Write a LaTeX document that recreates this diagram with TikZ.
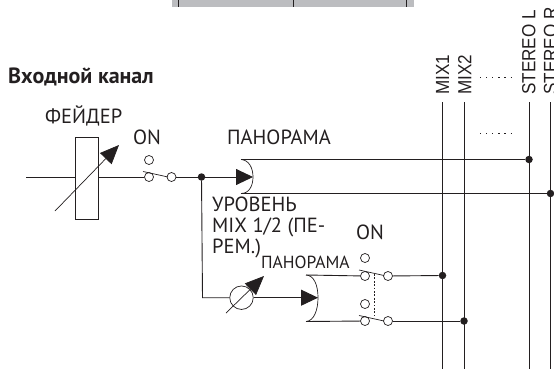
\documentclass[tikz,border=0pt]{standalone}
\usepackage{fontspec}
\usepackage{graphicx}
\setmainfont{PT Sans}
\newfontfamily\busfont{Liberation Sans}
\usetikzlibrary{arrows.meta}
\definecolor{ink}{HTML}{231F20}
\definecolor{barg}{HTML}{BCBDC0}
\tikzset{
  x=1pt,y=-1pt,
  wire/.style={draw=ink,line width=0.9pt},
  thin wire/.style={draw=ink,line width=0.7pt},
  termc/.style={circle,draw=ink,fill=white,line width=0.7pt,inner sep=0pt,minimum size=9pt},
  joint/.style={circle,fill=ink,inner sep=0pt,minimum size=7.5pt},
  lab/.style={inner sep=0pt,anchor=base west,text=ink,font=\fontsize{20.5}{24}\selectfont},
  buslab/.style={inner sep=0pt,anchor=base west,rotate=90,text=ink,font=\busfont\fontsize{19}{22}\selectfont},
  bighead/.style={-{Triangle[length=17pt,width=16pt]}},
  levhead/.style={-{Triangle[length=19pt,width=16pt]}},
  dotrow/.style={draw=ink,line width=1.2pt,dash pattern=on 1.2pt off 4.9pt},
}
\newcommand{\narrowbus}[1]{\scalebox{0.9}[1]{#1}}
\begin{document}
\begin{tikzpicture}
\useasboundingbox (0,0) rectangle (554,369);
\begin{scope}
\clip (0,0) rectangle (554,369);
% top bar
\fill[barg] (172,0) rectangle (414,7);
\draw[ink,line width=0.8pt] (178,0)--(178,7) (293,0)--(293,7) (406,0)--(406,7);
% buses
\coordinate (m1t) at (442.5,102); \coordinate (m1b) at (442.5,369);
\coordinate (m2t) at (464,102);   \coordinate (m2b) at (464,369);
\coordinate (slt) at (529,102);   \coordinate (slb) at (529,369);
\coordinate (srt) at (550.5,102); \coordinate (srb) at (550.5,369);
\draw[wire] (m1t)--(m1b) (m2t)--(m2b) (slt)--(slb) (srt)--(srb);
% input and fader
\node[draw=ink,line width=0.8pt,minimum width=23pt,minimum height=82.5pt,inner sep=0pt] (fader) at (87,178.2) {};
\coordinate (in) at (26,177);
\coordinate (fa) at (55,211);
\coordinate (fb) at (119,145);
% switch 1
\node[termc] (s1t) at (149,160) {};
\node[termc] (s1l) at (149,177) {};
\node[termc] (s1r) at (171.5,177) {};
\node[joint] (j1) at (201.5,177) {};
\coordinate (p1) at (253,177);
\draw[wire] (in)--(fader.west|-in);
\draw[wire] (fader.east|-in)--(s1l);
\draw[wire] (s1r)--(j1);
\draw[wire,bighead] (j1)--(p1);
\draw[thin wire,levhead] (fa)--(fb);
\draw[thin wire] (143,171.5)--(168,177);
% pan 1
\coordinate (a1t) at (241,159.5);
\coordinate (a1b) at (241,193.5);
\draw[thin wire] (a1t) .. controls (249,160) and (253,168) .. (p1) .. controls (253,186) and (249,193.5) .. (a1b);
\node[joint] (jl) at (529,159.5) {};
\node[joint] (jr) at (550.5,193.5) {};
\draw[wire] (a1t)--(jl);
\draw[wire] (a1b)--(jr);
% branch
\coordinate (bc) at (202.5,297.7);
\node[circle,draw=ink,line width=0.7pt,minimum size=23.5pt,inner sep=0pt] (att) at (241.5,297.7) {};
\coordinate (p2) at (318,297.7);
\draw[wire] (j1)--(bc)--(att);
\draw[wire,bighead] (att)--(p2);
\draw[thin wire,levhead] (226,313)--(264,276);
% pan 2
\coordinate (a2t) at (306,275);
\coordinate (a2b) at (306,321.5);
\draw[thin wire] (a2t) .. controls (314,275.5) and (318,285) .. (p2) .. controls (318,310) and (314,321) .. (a2b);
% switches 2,3
\node[termc] (s2t) at (365,258) {};
\node[termc] (s2l) at (365,276) {};
\node[termc] (s2r) at (388,276) {};
\node[termc] (s3t) at (365,304) {};
\node[termc] (s3l) at (365,321) {};
\node[termc] (s3r) at (388,321) {};
\node[joint] (j2) at (442.5,275.5) {};
\node[joint] (j3) at (464,321) {};
\draw[wire] (a2t)--(s2l);
\draw[wire] (a2b)--(s3l);
\draw[wire] (s2r)--(j2);
\draw[wire] (s3r)--(j3);
\draw[thin wire] (359,270)--(384,275.5);
\draw[thin wire] (359,315.5)--(384,321);
\draw[ink,line width=0.6pt,dash pattern=on 1.8pt off 1.6pt] (374.5,274)--(374.5,316);
% texts
\node[lab,font=\bfseries\fontsize{22}{24}\selectfont] (title) at (8,83) {Входной канал};
\node[lab] (tfader) at (45,123) {ФЕЙДЕР};
\node[lab] (ton1) at (133,144) {ON};
\node[lab] (tpan1) at (227,144) {ПАНОРАМА};
\node[lab] (tl1) at (212,211) {УРОВЕНЬ};
\node[lab] (tl2) at (212,232) {MIX 1/2 (ПЕ-};
\node[lab] (tl3) at (212,253) {РЕМ.)};
\node[lab,font=\fontsize{17.5}{20}\selectfont] (tpan2) at (261,268) {ПАНОРАМА};
\node[lab] (ton2) at (356,239) {ON};
\node[buslab] (bm1) at (449,95) {\narrowbus{MIX1}};
\node[buslab] (bm2) at (471.3,95) {\narrowbus{MIX2}};
\node[buslab] (bsl) at (535.3,95) {\narrowbus{STEREO L}};
\node[buslab] (bsr) at (557,95) {\narrowbus{STEREO R}};
\coordinate (d1a) at (480,77.5); \coordinate (d1b) at (512,77.5);
\coordinate (d2a) at (480,133.5); \coordinate (d2b) at (512,133.5);
\draw[dotrow] (d1a)--(d1b);
\draw[dotrow] (d2a)--(d2b);
\end{scope}
\end{tikzpicture}
\end{document}
